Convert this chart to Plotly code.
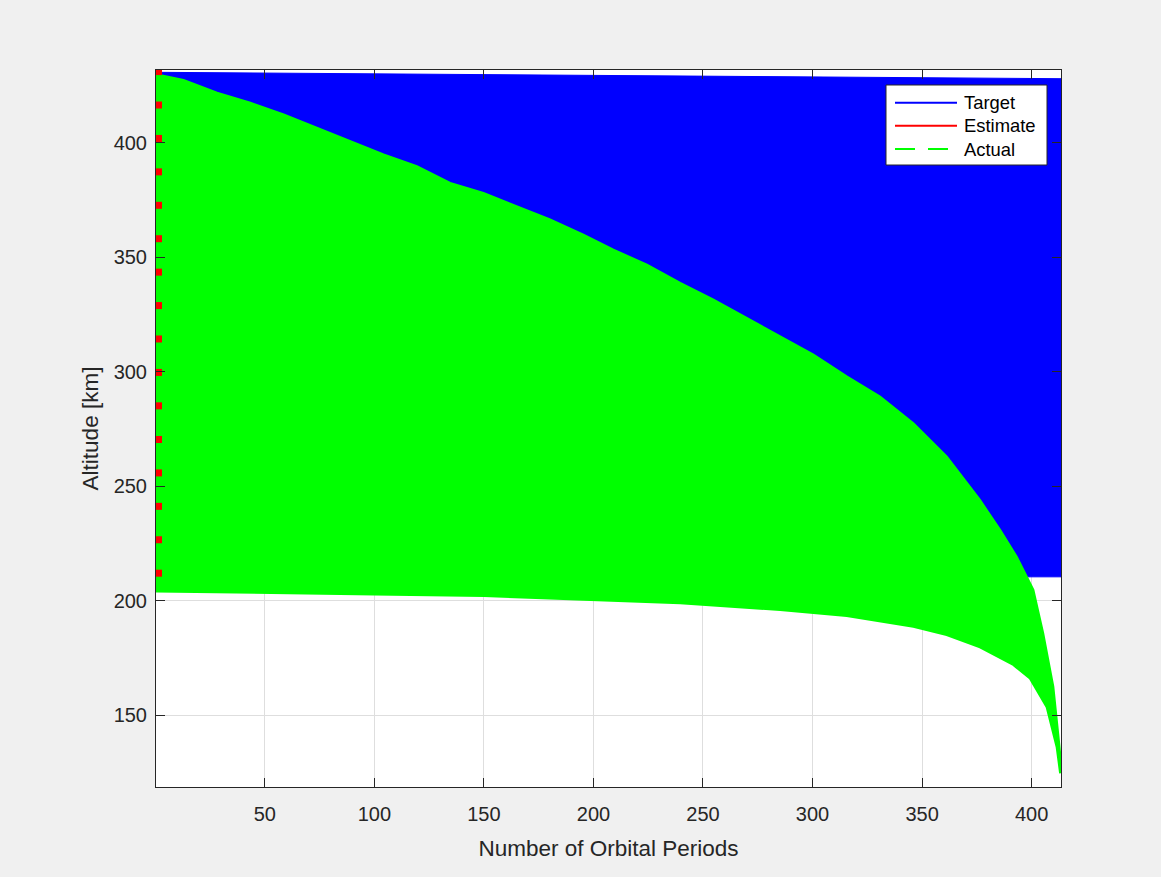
import plotly.graph_objects as go

# ---------------- data ----------------
# Target: band swept by the (very fast) target oscillation
target_x = [0.35, 100.0, 200.0, 300.0, 413.4]
target_top = [430.8, 430.2, 429.6, 428.8, 428.0]
target_bottom = [210.4, 210.4, 210.4, 210.4, 210.4]

# Actual: band swept by the decaying actual orbit (upper / lower envelopes)
actual_up_x = [0.35, 12.9, 28.2, 43.4, 58.6, 73.8, 89.0, 104.2, 119.4, 134.6,
               149.8, 165.0, 180.2, 195.4, 209.1, 224.4, 239.6, 254.8, 270.0,
               285.2, 300.4, 315.6, 330.8, 346.0, 361.2, 376.4, 385.6, 393.2,
               400.8, 405.3, 409.9, 412.1, 413.0]
actual_up = [429.9, 427.4, 421.9, 417.5, 412.4, 406.6, 400.7, 394.9, 389.8, 382.5,
             378.1, 372.3, 366.5, 359.9, 353.3, 346.8, 338.8, 331.5, 323.5,
             315.4, 307.5, 298.0, 289.2, 277.5, 263.0, 244.0, 230.9, 219.2,
             204.7, 185.7, 162.4, 142.0, 133.4]
actual_lo_x = [0.35, 50.0, 100.0, 150.0, 193.9, 239.6, 285.2, 315.6, 346.0,
               361.2, 376.4, 391.6, 399.2, 406.8, 411.4, 413.0]
actual_lo = [204.0, 203.4, 202.7, 202.0, 200.6, 198.9, 195.9, 193.3, 188.6,
             185.0, 179.6, 171.9, 166.0, 153.6, 136.1, 124.6]

# Estimate: only visible at the very first orbital period
estimate_x = [1.5] * 16
estimate_alt = [431.1, 416.5, 401.9, 387.3, 372.7, 358.1, 343.5, 328.9, 314.3,
                299.7, 285.1, 270.4, 255.8, 241.2, 226.6, 212.0]

x_ticks = [50, 100, 150, 200, 250, 300, 350, 400]
y_ticks = [150, 200, 250, 300, 350, 400]
x_range = [0.35, 413.4]
y_range = [118.6, 431.8]

BLUE = "#0000ff"
RED = "#ff0000"
GREEN = "#00ff00"
FONT = "Liberation Sans, Arial, Helvetica, sans-serif"
INK = "#262626"

fig = go.Figure()

# Target band
fig.add_trace(go.Scatter(
    x=target_x + target_x[::-1],
    y=target_top + target_bottom[::-1],
    fill="toself", fillcolor=BLUE, mode="lines",
    line=dict(color=BLUE, width=1), name="Target", showlegend=False,
    hoverinfo="skip"))

# Actual band
fig.add_trace(go.Scatter(
    x=actual_up_x + actual_lo_x[::-1],
    y=actual_up + actual_lo[::-1],
    fill="toself", fillcolor=GREEN, mode="lines",
    line=dict(color=GREEN, width=2), name="Actual", showlegend=False,
    hoverinfo="skip"))

# Estimate marks
fig.add_trace(go.Scatter(
    x=estimate_x, y=estimate_alt, mode="markers",
    marker=dict(symbol="square", size=7, color=RED, line=dict(width=0)),
    name="Estimate", showlegend=False, hoverinfo="skip"))

# ---------------- layout ----------------
W, H = 1161, 877
ML, MR, MT, MB = 156, 100, 70, 90
PW, PH = W - ML - MR, H - MT - MB


def px_x(p):
    return (p - ML) / PW


def px_y(p):
    return 1 - (p - MT) / PH


axis_common = dict(
    showline=True, linecolor=INK, linewidth=1, mirror="ticks",
    ticks="inside", ticklen=9, tickwidth=1, tickcolor=INK,
    showgrid=True, gridcolor="#dedede", gridwidth=1, zeroline=False,
    tickfont=dict(family=FONT, size=20, color=INK),
)

fig.update_layout(
    width=W, height=H,
    margin=dict(l=ML, r=MR, t=MT, b=MB, pad=0),
    paper_bgcolor="#f0f0f0", plot_bgcolor="white",
    showlegend=False,
    xaxis=dict(range=x_range, tickvals=x_ticks, ticklabelstandoff=9,
               title=dict(text="Number of Orbital Periods",
                          font=dict(family=FONT, size=22.5, color=INK),
                          standoff=16),
               **axis_common),
    yaxis=dict(range=y_range, tickvals=y_ticks, ticklabelstandoff=4,
               title=dict(text="Altitude [km]",
                          font=dict(family=FONT, size=22.5, color=INK),
                          standoff=8),
               **axis_common),
)

# ---------------- legend (MATLAB style box) ----------------
shapes = [dict(type="rect", xref="paper", yref="paper",
               x0=px_x(886), x1=px_x(1047), y0=px_y(165), y1=px_y(85),
               fillcolor="white", line=dict(color=INK, width=1), layer="above")]
legend_items = [("Target", BLUE, "solid", 102.7),
                ("Estimate", RED, "solid", 125.7),
                ("Actual", GREEN, "dash", 149.0)]
annotations = []
for name, col, dash, yy in legend_items:
    shapes.append(dict(type="line", xref="paper", yref="paper",
                       x0=px_x(895), x1=px_x(957), y0=px_y(yy), y1=px_y(yy),
                       line=dict(color=col, width=2,
                                 dash="20px,13px" if dash == "dash" else "solid"),
                       layer="above"))
    annotations.append(dict(xref="paper", yref="paper", x=px_x(962), y=px_y(yy),
                            text=name, showarrow=False, xanchor="left",
                            yanchor="middle",
                            font=dict(family=FONT, size=18.4, color="black")))
fig.update_layout(shapes=shapes, annotations=annotations)

fig.write_html("out.html", include_plotlyjs=True, full_html=True,
               config={"displayModeBar": False},
               post_script="document.body.style.margin='0px';")
